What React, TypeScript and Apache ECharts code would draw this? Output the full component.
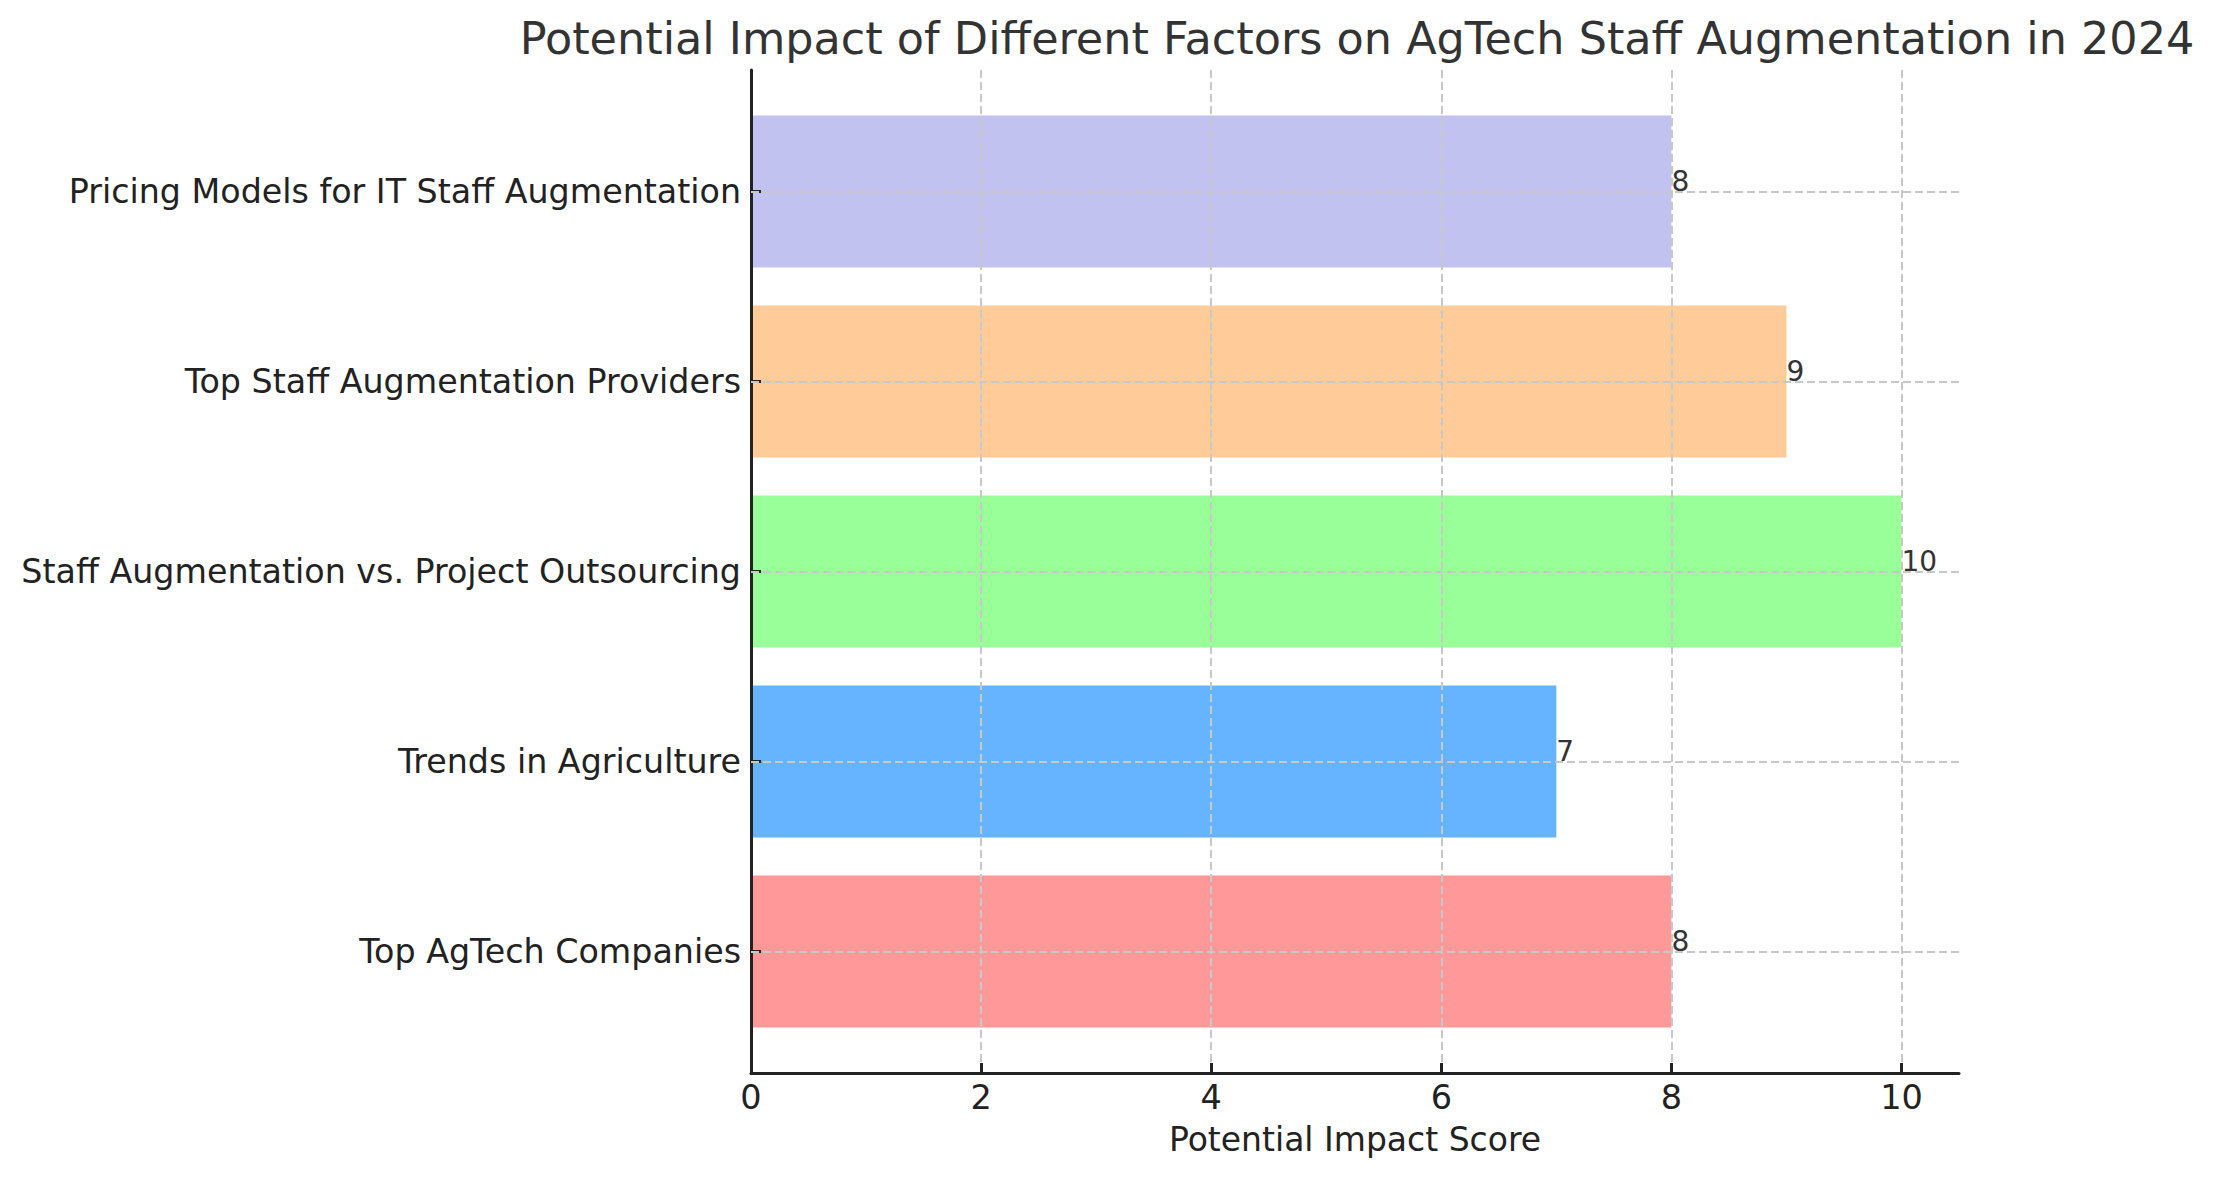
import React, { useEffect, useRef } from 'react';
import * as echarts from 'echarts';

// categories from bottom to top, as matplotlib barh draws them
const categories = [
  'Top AgTech Companies',
  'Trends in Agriculture',
  'Staff Augmentation vs. Project Outsourcing',
  'Top Staff Augmentation Providers',
  'Pricing Models for IT Staff Augmentation'
];
const scores = [8, 7, 10, 9, 8];
const barColors = ['#ff9999', '#66b3ff', '#99ff99', '#ffcc99', '#c2c2f0'];
const xTicks = [0, 2, 4, 6, 8, 10];

const FONT = 'DejaVu Sans';
const GRID_COLOR = '#c8c8c8';
const SPINE_COLOR = '#222222';

// plot area in page pixels
const PLOT_LEFT = 751;
const PLOT_TOP = 70;
const PLOT_W = 1208;
const PLOT_H = 1003;
// matplotlib pads the category range by 0.14 of a band on each side
const BAND = PLOT_H / 5.28;
const INSET = BAND * 0.14;

const App: React.FC = () => {
  const chartRef = useRef<HTMLDivElement>(null);

  useEffect(() => {
    if (!chartRef.current) return;
    const chart = echarts.init(chartRef.current, null, { renderer: 'svg' });

    const option: echarts.EChartsOption = {
      animation: false,
      backgroundColor: '#ffffff',
      graphic: [
        {
          type: 'text',
          x: PLOT_LEFT + PLOT_W / 2 + 2,
          y: 38,
          style: {
            text: 'Potential Impact of Different Factors on AgTech Staff Augmentation in 2024',
            fontFamily: FONT,
            fontSize: 44.5,
            fill: '#333333',
            align: 'center',
            verticalAlign: 'middle'
          }
        }
      ],
      grid: [
        { left: PLOT_LEFT, top: PLOT_TOP, width: PLOT_W, height: PLOT_H },
        { left: PLOT_LEFT, top: PLOT_TOP + INSET, width: PLOT_W, height: PLOT_H - 2 * INSET }
      ],
      xAxis: [
        {
          type: 'value',
          gridIndex: 0,
          min: 0,
          max: 10.5,
          interval: 2,
          z: 3,
          name: 'Potential Impact Score',
          nameLocation: 'middle',
          nameGap: 50,
          nameTextStyle: { fontFamily: FONT, fontSize: 33, color: '#222222' },
          axisLine: { show: true, lineStyle: { color: SPINE_COLOR, width: 3 } },
          axisTick: {
            show: true,
            inside: true,
            length: 10,
            customValues: xTicks,
            lineStyle: { color: SPINE_COLOR, width: 3 }
          },
          axisLabel: {
            customValues: xTicks,
            margin: 7,
            fontFamily: FONT,
            fontSize: 33.5,
            color: '#222222'
          },
          splitLine: {
            show: true,
            lineStyle: { color: GRID_COLOR, width: 2, type: [8, 4] }
          }
        },
        {
          type: 'value',
          gridIndex: 1,
          min: 0,
          max: 10.5,
          show: false
        }
      ],
      yAxis: [
        {
          type: 'value',
          gridIndex: 0,
          min: 0,
          max: 1,
          z: 3,
          axisLine: { show: true, lineStyle: { color: SPINE_COLOR, width: 3 } },
          axisTick: { show: false },
          axisLabel: { show: false },
          splitLine: { show: false }
        },
        {
          type: 'category',
          gridIndex: 1,
          data: categories,
          z: 3,
          axisLine: { show: false },
          axisTick: {
            show: true,
            inside: true,
            alignWithLabel: true,
            length: 10,
            lineStyle: { color: SPINE_COLOR, width: 3 }
          },
          axisLabel: {
            margin: 10,
            fontFamily: FONT,
            fontSize: 33.3,
            color: '#222222'
          },
          splitLine: { show: false }
        }
      ],
      series: [
        {
          type: 'bar',
          xAxisIndex: 1,
          yAxisIndex: 1,
          barWidth: '80%',
          data: scores.map((v, i) => ({ value: v, itemStyle: { color: barColors[i] } })),
          label: {
            show: true,
            position: 'right',
            distance: 0,
            offset: [0, -10],
            formatter: '{c}',
            fontFamily: FONT,
            fontSize: 28,
            color: '#333333'
          },
          markLine: {
            silent: true,
            symbol: ['none', 'none'],
            label: { show: false },
            lineStyle: { color: GRID_COLOR, width: 2, type: [8, 4] },
            data: categories.map((c) => ({ yAxis: c }))
          }
        }
      ]
    };

    chart.setOption(option);

    return () => {
      chart.dispose();
    };
  }, []);

  return (
    <div
      ref={chartRef}
      style={{ position: 'fixed', left: 0, top: 0, width: 2213, height: 1180, background: '#fff' }}
    />
  );
};

export default App;
